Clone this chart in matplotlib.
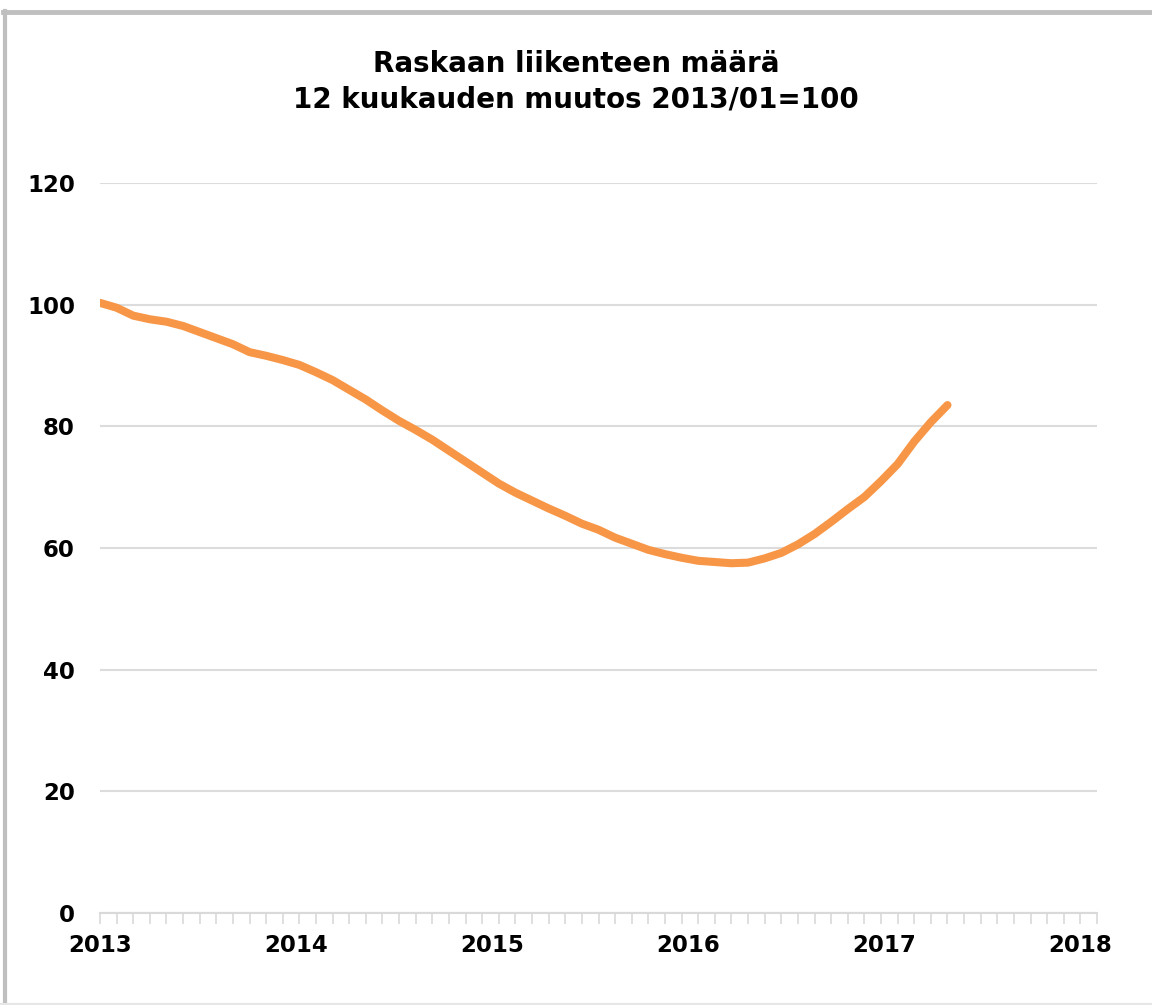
import matplotlib
matplotlib.use("Agg")
import matplotlib.pyplot as plt
from matplotlib.lines import Line2D
import numpy as np

# heavy traffic volume, 12-month rolling index, 2013/01 = 100 (monthly, Jan 2013 .. Apr 2017)
index_values = [
    100.3, 99.5, 98.2, 97.6, 97.2, 96.5, 95.5, 94.5, 93.5, 92.2, 91.6, 90.9,   # 2013
    90.1, 88.9, 87.6, 86.0, 84.4, 82.6, 80.9, 79.4, 77.8, 76.0, 74.2, 72.4,    # 2014
    70.6, 69.1, 67.8, 66.5, 65.3, 64.0, 63.0, 61.7, 60.7, 59.7, 59.0, 58.4,    # 2015
    57.9, 57.7, 57.5, 57.6, 58.3, 59.2, 60.6, 62.3, 64.3, 66.4, 68.4, 71.0,    # 2016
    73.8, 77.5, 80.7, 83.5,                                                    # 2017
]
years = ["2013", "2014", "2015", "2016", "2017", "2018"]
y_ticks = [0, 20, 40, 60, 80, 100, 120]

title = "Raskaan liikenteen määrä\n12 kuukauden muutos 2013/01=100"

plt.rcParams["font.family"] = ["DejaVu Sans"]

fig = plt.figure(figsize=(11.52, 10.05), dpi=100)
ax = fig.add_axes([0.0868, 0.0915, 0.8655, 0.7264])

months = np.arange(len(index_values))
ax.plot(months, index_values, color="#f79646", lw=5.8, solid_capstyle="round",
        solid_joinstyle="round", zorder=3)

ax.set_xlim(0, 60)
ax.set_ylim(0, 120)
ax.set_yticks(y_ticks)
ax.set_yticklabels([str(v) for v in y_ticks], fontsize=16.5, fontweight="bold")

# year labels sit slightly left of the January tick marks, like the original date axis
ax.set_xticks(np.arange(len(years)) * 11.8)
ax.set_xticklabels(years, fontsize=16.5, fontweight="bold")
ax.set_xticks(np.arange(0, 61, 1), minor=True)
ax.xaxis.remove_overlapping_locs = False

ax.tick_params(axis="y", length=0, pad=18)
ax.tick_params(axis="x", which="major", length=0, pad=15)
ax.tick_params(axis="x", which="minor", direction="out", length=8, width=1.2,
               color="#d9d9d9")

ax.grid(axis="y", color="#dcdcdc", lw=1.5)
ax.set_axisbelow(True)
for side in ["top", "right", "left"]:
    ax.spines[side].set_visible(False)
ax.spines["bottom"].set_color("#d9d9d9")
ax.spines["bottom"].set_linewidth(1.5)

fig.text(0.5, 0.919, title, ha="center", va="center", fontsize=20,
         fontweight="bold", linespacing=1.33)

# gray frame around the chart area (top and left edges visible)
fig.add_artist(Line2D([0.003, 1.0], [1 - 12.5 / 1005] * 2, color="#bfbfbf", lw=3.5,
                      transform=fig.transFigure))
fig.add_artist(Line2D([4.5 / 1152] * 2, [0.0, 1 - 11 / 1005], color="#bfbfbf", lw=3.0,
                      transform=fig.transFigure))
fig.add_artist(Line2D([0.0, 1.0], [1.5 / 1005] * 2, color="#e6e6e6", lw=1.5,
                      transform=fig.transFigure))

fig.savefig("out.png", dpi=100, facecolor="white")
